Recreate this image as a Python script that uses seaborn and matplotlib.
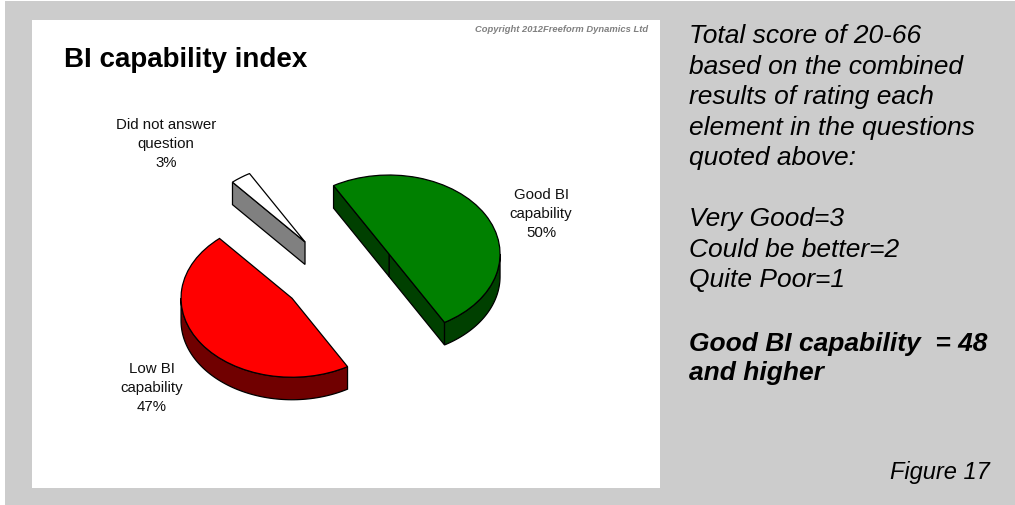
import numpy as np
import seaborn as sns
import matplotlib
matplotlib.use("Agg")
import matplotlib.pyplot as plt
from matplotlib.patches import Polygon, Rectangle

# Survey results
segments = ["Good BI capability", "Did not answer question", "Low BI capability"]
shares = [50, 3, 47]
label_text = ["Good BI\ncapability", "Did not answer\nquestion", "Low BI\ncapability"]
top_colours = ["#008000", "#ffffff", "#ff0000"]
side_colours = ["#004000", "#808080", "#700000"]

title = "BI capability index"
copyright_note = "Copyright 2012Freeform Dynamics Ltd"
notes = ("Total score of 20-66\nbased on the combined\nresults of rating each\n"
         "element in the questions\nquoted above:")
scale_notes = "Very Good=3\nCould be better=2\nQuite Poor=1"
threshold_note = "Good BI capability  = 48\nand higher"
figure_tag = "Figure 17"

W, H = 1015, 506
sns.set_theme(style="white")
plt.rcParams["font.family"] = ["Liberation Sans", "DejaVu Sans"]

fig = plt.figure(figsize=(W / 100, H / 100), dpi=100, facecolor="white")


def fx(px):
    return px / W


def fy(py):
    return 1 - py / H


# Grey slide background with a white chart panel on top
fig.add_artist(Rectangle((fx(5), 0), 1 - fx(5), fy(2), transform=fig.transFigure,
                         facecolor="#cccccc", edgecolor="none", zorder=-3))
fig.add_artist(Rectangle((fx(32), fy(489)), fx(660 - 32), fy(21) - fy(489),
                         transform=fig.transFigure, facecolor="white",
                         edgecolor="none", zorder=-2))

# The pie's unit circle is flattened: 111 px across and 79 px high per unit
rx, ry = 111, 79
cx, cy = 338, 276
depth = 22.5 / ry
left, right, top, bottom = 32, 660, 21, 489
ax = fig.add_axes([fx(left), fy(bottom), fx(right - left), fy(top) - fy(bottom)])
wedges, _ = ax.pie(shares, colors=top_colours, explode=[0.531, 0.513, 0.508],
                   startangle=-60, counterclock=True, radius=1,
                   wedgeprops=dict(edgecolor="black", linewidth=0.9, zorder=5))
ax.set_aspect("auto")
ax.set_xlim((left - cx) / rx, (right - cx) / rx)
ax.set_ylim((cy - bottom) / ry, (cy - top) / ry)
ax.axis("off")
ax.patch.set_alpha(0)

# Extrude every wedge downwards: radial cut faces first, rim last
for wedge, shade in zip(wedges, side_colours):
    x0, y0 = wedge.center
    t1, t2 = wedge.theta1, wedge.theta2

    def point(deg):
        a = np.deg2rad(deg)
        return np.array([x0 + wedge.r * np.cos(a), y0 + wedge.r * np.sin(a)])

    def add_wall(path):
        path = np.asarray(path)
        lowered = path[::-1] - [0, depth]
        ax.add_patch(Polygon(np.vstack([path, lowered]), closed=True, facecolor=shade,
                             edgecolor="black", linewidth=0.9, zorder=3))

    apex = np.array([x0, y0])
    if np.cos(np.deg2rad(t1)) > 0:
        add_wall([apex, point(t1)])
    if np.cos(np.deg2rad(t2)) < 0:
        add_wall([apex, point(t2)])

    # The rim shows only along the lower half of the ellipse
    for lo_limit, hi_limit in ((-180, 0), (180, 360)):
        lo, hi = max(t1, lo_limit), min(t2, hi_limit)
        if hi > lo:
            add_wall([point(d) for d in np.linspace(lo, hi, 80)])

# Chart text
fig.text(fx(64), fy(60), title, fontsize=20, fontweight="bold", color="black",
         ha="left", va="center")
fig.text(fx(648), fy(29), copyright_note, fontsize=6.75, fontweight="bold", style="italic",
         color="#808080", ha="right", va="center")

label_centres = [(541, 214), (166, 144), (152, 388)]
for name, share, (lx, ly) in zip(label_text, shares, label_centres):
    fig.text(fx(lx), fy(ly), f"{name}\n{share}%", fontsize=10.8, color="#111111",
             ha="center", va="center", linespacing=1.48)

# Side commentary
side = dict(fontsize=19, style="italic", color="black", ha="left", va="top", linespacing=1.345)
fig.text(fx(689), fy(24), notes, **side)
fig.text(fx(689), fy(207), scale_notes, **side)
fig.text(fx(689), fy(332), threshold_note, fontweight="bold", **{**side, "linespacing": 1.27})
fig.text(fx(990), fy(473), figure_tag, fontsize=17, style="italic", color="black",
         ha="right", va="center")

fig.savefig("out.png", dpi=100, facecolor=fig.get_facecolor())
